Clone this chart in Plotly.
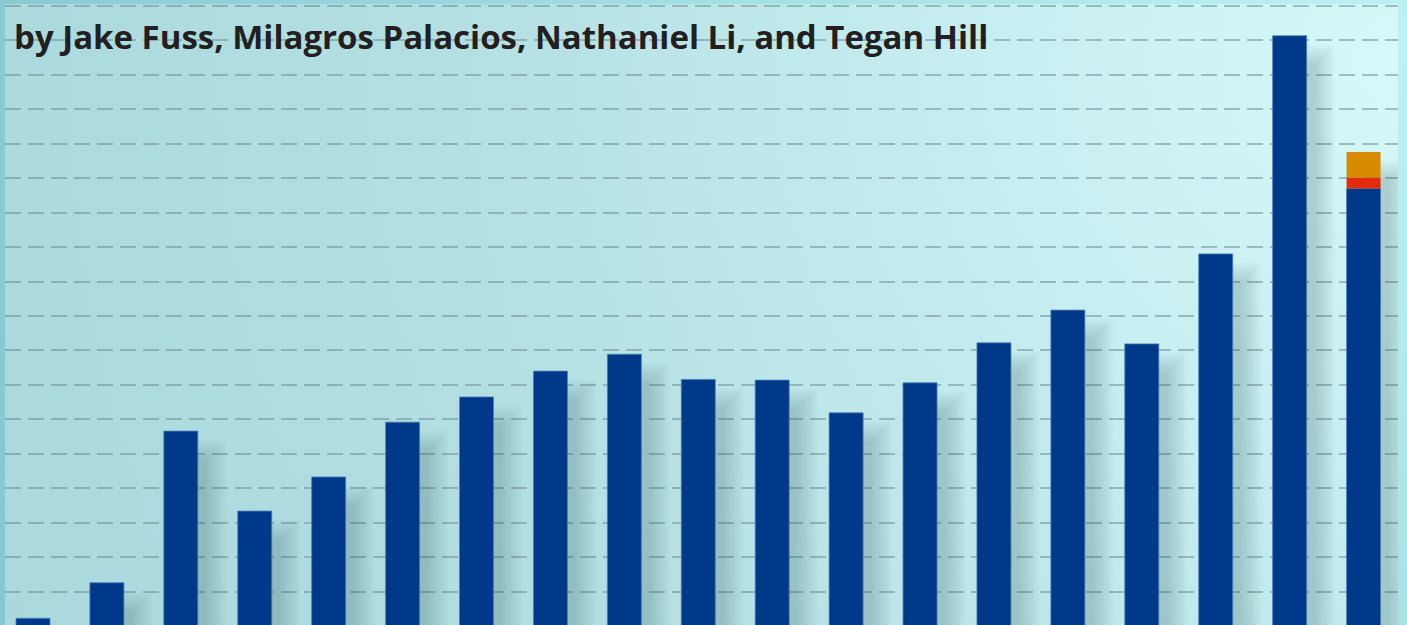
import base64
import plotly.graph_objects as go

# ---------------- data (in gridline units) ----------------
categories = list(range(19))
base_values = [0.23, 1.26, 5.66, 3.34, 4.33, 5.92, 6.65, 7.40, 7.89, 7.16,
               7.14, 6.19, 7.06, 8.22, 9.17, 8.19, 10.80, 17.13, 12.70]
red_values = [None] * 18 + [0.32]
orange_values = [None] * 18 + [0.74]
title_text = "by Jake Fuss, Milagros Palacios, Nathaniel Li, and Tegan Hill"

# ---------------- geometry / style ----------------
W, H = 1407, 625
ML, MR, MT, MB = 5, 9, 4, 0
PW, PH = W - ML - MR, H - MT - MB
PX_X = 73.92          # px per category
PX_Y = 34.47          # px per gridline unit
X0 = (ML - 33) / PX_X
X1 = X0 + PW / PX_X
Y1 = (626.2 - MT) / PX_Y
Y0 = (626.2 - H) / PX_Y
BAR_W = 34 / PX_X

BLUE = "#00388a"
RED = "#e22c0c"
ORANGE = "#d88a00"

svg = f'''<svg xmlns="http://www.w3.org/2000/svg" width="{W}" height="{H}" viewBox="0 0 {W} {H}" preserveAspectRatio="none">
<defs>
<radialGradient id="o" gradientUnits="userSpaceOnUse" cx="1407" cy="40" r="1500">
<stop offset="0" stop-color="#bdf2f4"/><stop offset="1" stop-color="#86c8cf"/></radialGradient>
<radialGradient id="g" gradientUnits="userSpaceOnUse" cx="1400" cy="60" r="1500">
<stop offset="0" stop-color="#d6f9f9"/><stop offset="0.3" stop-color="#c5edef"/>
<stop offset="0.65" stop-color="#b3dfe2"/><stop offset="1" stop-color="#aad8dc"/></radialGradient>
</defs>
<rect width="{W}" height="{H}" fill="url(#o)"/>
<rect x="{ML}" y="{MT}" width="{PW}" height="{PH}" fill="url(#g)"/>
</svg>'''
bg_uri = "data:image/svg+xml;base64," + base64.b64encode(svg.encode()).decode()

fig = go.Figure()

# soft drop shadows to the right of each bar (layered translucent bars)
totals = [b + (r or 0) + (o or 0) for b, r, o in zip(base_values, red_values, orange_values)]
for i in range(1, 9):
    spread = 2.75 * i
    right = (17 + 6 + spread) / PX_X
    drop = (31 - spread) / PX_Y
    fig.add_trace(go.Bar(
        x=categories,
        y=[max(t - drop, 0) for t in totals],
        offset=0.0, width=right,
        marker=dict(color="rgba(20,55,65,0.028)", line=dict(width=0)),
        hoverinfo="skip", showlegend=False,
    ))

fig.add_trace(go.Bar(
    x=categories, y=base_values, offset=-BAR_W / 2, width=BAR_W,
    marker=dict(color=BLUE, line=dict(color="rgba(80,125,185,0.8)", width=1)),
    showlegend=False,
))
fig.add_trace(go.Bar(
    x=categories, y=red_values, base=base_values, offset=-BAR_W / 2, width=BAR_W,
    marker=dict(color=RED, line=dict(width=0)), showlegend=False,
))
fig.add_trace(go.Bar(
    x=categories, y=orange_values,
    base=[b + (r or 0) for b, r in zip(base_values, red_values)],
    offset=-BAR_W / 2, width=BAR_W,
    marker=dict(color=ORANGE, line=dict(width=0)), showlegend=False,
))

fig.add_annotation(
    text=f"<b>{title_text}</b>", xref="paper", yref="paper",
    x=(12 - ML) / PW, y=1 - (36 - MT) / PH, xanchor="left", yanchor="middle",
    showarrow=False, font=dict(family="Open Sans", size=33, color="#231f20"),
)

fig.update_layout(
    width=W, height=H,
    margin=dict(l=ML, r=MR, t=MT, b=MB, pad=0),
    paper_bgcolor="#9dd6db", plot_bgcolor="rgba(0,0,0,0)",
    barmode="overlay", showlegend=False, hovermode=False,
    images=[dict(source=bg_uri, xref="paper", yref="paper",
                 x=-ML / PW, y=1 + MT / PH, sizex=W / PW, sizey=H / PH,
                 xanchor="left", yanchor="top", sizing="stretch", layer="below")],
    xaxis=dict(range=[X0, X1], showgrid=False, zeroline=False, showline=False,
               showticklabels=False, ticks="", fixedrange=True),
    yaxis=dict(range=[Y0, Y1], tick0=0, dtick=1, showgrid=True,
               gridcolor="rgba(100,135,140,0.5)", gridwidth=1.5, griddash="16px,7px",
               zeroline=False, showline=False, showticklabels=False, ticks="",
               fixedrange=True),
)

fig.write_html("out.html", config={"displayModeBar": False})
